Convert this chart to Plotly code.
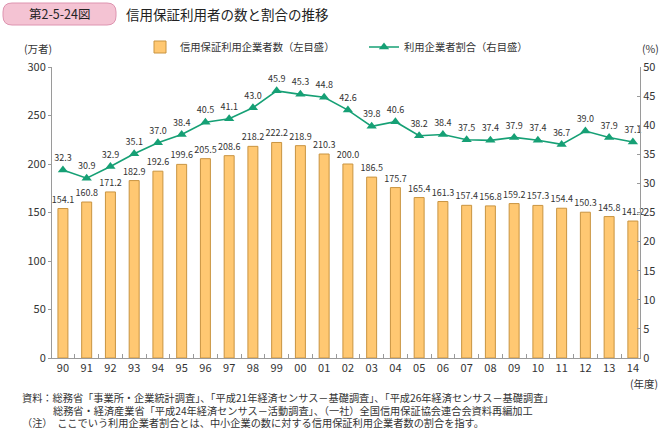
import plotly.graph_objects as go

years = ["90","91","92","93","94","95","96","97","98","99","00","01","02","03","04","05","06","07","08","09","10","11","12","13","14"]
users = [154.1,160.8,171.2,182.9,192.6,199.6,205.5,208.6,218.2,222.2,218.9,210.3,200.0,186.5,175.7,165.4,161.3,157.4,156.8,159.2,157.3,154.4,150.3,145.8,141.2]
ratio = [32.3,30.9,32.9,35.1,37.0,38.4,40.5,41.1,43.0,45.9,45.3,44.8,42.6,39.8,40.6,38.2,38.4,37.5,37.4,37.9,37.4,36.7,39.0,37.9,37.1]
left_ticks = [0, 50, 100, 150, 200, 250, 300]
right_ticks = [0, 5, 10, 15, 20, 25, 30, 35, 40, 45, 50]

W, H = 663, 429
L, R, T, B = 52, 23, 67, 71
pw, ph = W - L - R, H - T - B
FONT = "Noto Sans CJK JP"
TXT = "#333333"

def px(x):
    return (x - L) / pw

def py(y):
    return (H - B - y) / ph

fig = go.Figure()
fig.add_trace(go.Bar(
    x=years, y=users, name="信用保証利用企業者数（左目盛）",
    marker=dict(color="#FFC872", line=dict(color="#C99440", width=1)),
    width=0.42,
    text=[f"{v:.1f}" for v in users], textposition="outside", constraintext="none",
    textfont=dict(size=9, color=TXT, family=FONT), cliponaxis=False,
    legend="legend",
))
fig.add_trace(go.Scatter(
    x=years, y=ratio, name="利用企業者割合（右目盛）", yaxis="y2",
    mode="lines+markers+text",
    line=dict(color="#16A075", width=1.6),
    marker=dict(symbol="triangle-up", size=9, color="#16A075"),
    text=[f"{v:.1f}" for v in ratio], textposition="top center",
    textfont=dict(size=9, color=TXT, family=FONT), cliponaxis=False,
    legend="legend2",
))

axis_col = "#9a9a9a"
fig.update_layout(
    width=W, height=H,
    margin=dict(l=L, r=R, t=T, b=B, autoexpand=False),
    plot_bgcolor="white", paper_bgcolor="white",
    font=dict(family=FONT, color=TXT, size=11),
    xaxis=dict(
        type="category", range=[-0.46, 24.3],
        showline=True, linecolor=axis_col, linewidth=1,
        ticks="inside", ticklen=4, tickcolor=axis_col, tickson="boundaries",
        showgrid=False, tickfont=dict(size=11, color=TXT),
    ),
    yaxis=dict(
        range=[0, 300], tickvals=left_ticks, showgrid=False, zeroline=False,
        showline=True, linecolor=axis_col, linewidth=1,
        ticks="outside", ticklen=3, tickcolor=axis_col,
        tickfont=dict(size=11, color=TXT), automargin=False,
    ),
    yaxis2=dict(
        range=[0, 50], tickvals=right_ticks, overlaying="y", side="right",
        showgrid=False, zeroline=False,
        showline=True, linecolor=axis_col, linewidth=1,
        ticks="inside", ticklen=3, tickcolor=axis_col,
        tickfont=dict(size=11, color=TXT), automargin=False,
    ),
    legend=dict(
        orientation="h", xref="container", yref="container",
        x=140 / W, y=1 - 47 / H, xanchor="left", yanchor="middle",
        font=dict(size=10.3, color=TXT), bgcolor="rgba(0,0,0,0)",
    ),
    legend2=dict(
        orientation="h", xref="container", yref="container",
        x=364 / W, y=1 - 47 / H, xanchor="left", yanchor="middle",
        font=dict(size=10.3, color=TXT), bgcolor="rgba(0,0,0,0)",
    ),
    showlegend=True,
)

# title badge (rounded rectangle)
x0, x1, y0, y1, r = 3, 116, 3, 25, 9
path = (f"M {px(x0 + r)} {py(y0)} L {px(x1 - r)} {py(y0)} "
        f"Q {px(x1)} {py(y0)} {px(x1)} {py(y0 + r)} L {px(x1)} {py(y1 - r)} "
        f"Q {px(x1)} {py(y1)} {px(x1 - r)} {py(y1)} L {px(x0 + r)} {py(y1)} "
        f"Q {px(x0)} {py(y1)} {px(x0)} {py(y1 - r)} L {px(x0)} {py(y0 + r)} "
        f"Q {px(x0)} {py(y0)} {px(x0 + r)} {py(y0)} Z")
fig.add_shape(type="path", path=path, xref="paper", yref="paper",
              fillcolor="#F4C3D3", line=dict(color="#DE94B0", width=1), layer="above")

def ann(text, x, y, size, xanchor="left", color=TXT):
    fig.add_annotation(text=text, x=px(x), y=py(y), xref="paper", yref="paper",
                       xanchor=xanchor, yanchor="middle", showarrow=False,
                       font=dict(size=size, color=color, family=FONT))

ann("第2-5-24図", 59, 14, 12.5, "center", "#222222")
ann("信用保証利用者の数と割合の推移", 124, 14, 13.5, "left", "#222222")
ann("(万者)", 38, 48, 10.5, "center")
ann("(%)", 661, 48, 10.5, "right")
ann("(年度)", 660, 383, 10.5, "right")
ann("資料：総務省「事業所・企業統計調査」、「平成21年経済センサス－基礎調査」、「平成26年経済センサス－基礎調査」", 20, 397.5, 10.2)
ann("総務省・経済産業省「平成24年経済センサス－活動調査」、（一社）全国信用保証協会連合会資料再編加工", 51, 410, 10.2)
ann("（注）  ここでいう利用企業者割合とは、中小企業の数に対する信用保証利用企業者数の割合を指す。", 20, 422.5, 10.2)

fig.write_html("out.html", config={"displayModeBar": False},
               post_script="document.body.style.margin='0';document.body.style.overflow='hidden';")
